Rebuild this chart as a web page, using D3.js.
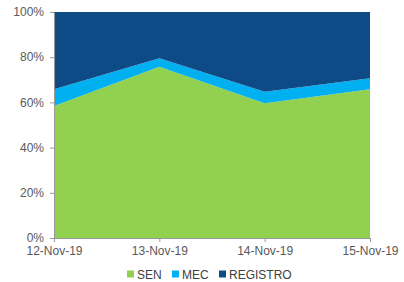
<!DOCTYPE html>
<html><head><meta charset="utf-8">
<script src="https://cdn.jsdelivr.net/npm/d3@7"></script>
<style>body{margin:0;background:#fff;}svg{display:block;font-family:"Liberation Sans",Arial,sans-serif;}</style>
</head><body><svg id="c" width="404" height="282"></svg>
<script>
const dates = ["12-Nov-19","13-Nov-19","14-Nov-19","15-Nov-19"];
const seriesNames = ["SEN","MEC","REGISTRO"];
const sen = [58.4, 75.8, 59.6, 65.8];
const mec = [7.4, 3.7, 5.1, 4.9];
const registro = [34.2, 20.5, 35.3, 29.3];
const yTicks = [0,20,40,60,80,100];
const colors = ["#92D050","#00B0F0","#0E4A85"];

const svg = d3.select("#c");
const m = {l:54, r:34, t:12, b:44};
const W = 404, H = 282;
const x = d3.scalePoint().domain(dates).range([m.l, W-m.r]);
const y = d3.scaleLinear().domain([0,100]).range([H-m.b, m.t]);

const rows = dates.map((d,i)=>({date:d, SEN:sen[i], MEC:mec[i], REGISTRO:registro[i]}));
const stack = d3.stack().keys(seriesNames).offset(d3.stackOffsetExpand)(rows);
const area = d3.area().x(d=>x(d.data.date)).y0(d=>y(d[0]*100)).y1(d=>y(d[1]*100));
svg.append("g").selectAll("path").data(stack).join("path")
  .attr("d", area).attr("fill",(d,i)=>colors[i]);

const ya = svg.append("g").attr("transform",`translate(${m.l},0)`)
  .call(d3.axisLeft(y).tickValues(yTicks).tickFormat(d=>d+"%").tickSize(4).tickSizeOuter(0));
ya.select(".domain").attr("stroke","#999");
ya.selectAll(".tick line").attr("stroke","#999");
ya.selectAll("text").attr("font-size","12px").attr("fill","#595959").attr("x",-10).attr("dy","0.3em");

const xa = svg.append("g").attr("transform",`translate(0,${H-m.b})`)
  .call(d3.axisBottom(x).tickSize(4).tickSizeOuter(0));
xa.select(".domain").attr("stroke","#999");
xa.selectAll(".tick line").attr("stroke","#999");
xa.selectAll("text").attr("font-size","12px").attr("fill","#595959").attr("y",8.5);

const legX = [127, 172, 219];
const lg = svg.append("g").selectAll("g").data(seriesNames).join("g")
  .attr("transform",(d,i)=>`translate(${legX[i]},270.5)`);
lg.append("rect").attr("width",7).attr("height",7).attr("fill",(d,i)=>colors[i]);
lg.append("text").attr("x",10).attr("y",8).attr("font-size","12px").attr("fill","#404040").text(d=>d);
</script></body></html>
